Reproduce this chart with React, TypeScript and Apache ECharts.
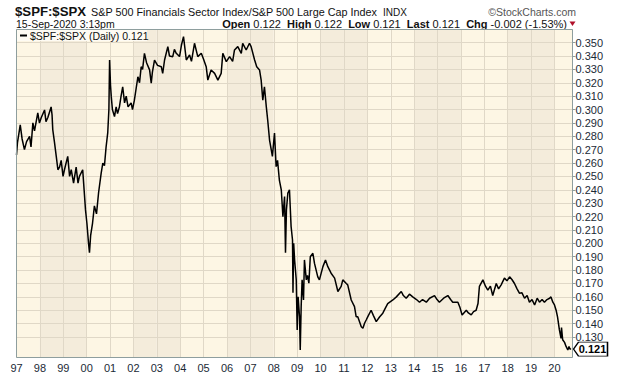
import React, { useEffect, useRef } from "react";
import * as echarts from "echarts";

// decimal years (time) and $SPF:$SPX ratio values
const years = [
  1997.00, 1997.04, 1997.16, 1997.24, 1997.34, 1997.43, 1997.56, 1997.62, 1997.70, 1997.77,
  1997.91, 1997.98, 1998.06, 1998.20, 1998.26, 1998.34, 1998.41, 1998.48, 1998.52, 1998.55,
  1998.62, 1998.70, 1998.77, 1998.84, 1998.91, 1998.99, 1999.05, 1999.19, 1999.27, 1999.34,
  1999.44, 1999.55, 1999.63, 1999.69, 1999.83, 1999.89, 1999.95, 2000.01, 2000.08, 2000.12,
  2000.17, 2000.25, 2000.33, 2000.42, 2000.51, 2000.62, 2000.69, 2000.76, 2000.83, 2000.90,
  2000.95, 2000.98, 2001.02, 2001.05, 2001.10, 2001.19, 2001.26, 2001.32, 2001.40, 2001.47,
  2001.54, 2001.62, 2001.69, 2001.77, 2001.90, 2001.96, 2002.04, 2002.19, 2002.26, 2002.33,
  2002.39, 2002.47, 2002.56, 2002.69, 2002.76, 2002.81, 2002.90, 2003.03, 2003.19, 2003.25,
  2003.33, 2003.47, 2003.54, 2003.68, 2003.75, 2003.83, 2003.97, 2004.05, 2004.14, 2004.26,
  2004.40, 2004.48, 2004.61, 2004.75, 2004.90, 2004.99, 2005.11, 2005.18, 2005.32, 2005.47,
  2005.61, 2005.75, 2005.82, 2005.97, 2006.11, 2006.24, 2006.32, 2006.46, 2006.61, 2006.67,
  2006.82, 2006.96, 2007.03, 2007.18, 2007.27, 2007.39, 2007.46, 2007.53, 2007.60, 2007.68,
  2007.74, 2007.82, 2007.89, 2007.94, 2008.03, 2008.10, 2008.16, 2008.24, 2008.32, 2008.39,
  2008.46, 2008.50, 2008.54, 2008.60, 2008.67, 2008.74, 2008.80, 2008.82, 2008.85, 2008.89,
  2008.96, 2009.00, 2009.04, 2009.10, 2009.13, 2009.17, 2009.21, 2009.27, 2009.31, 2009.39,
  2009.44, 2009.50, 2009.56, 2009.67, 2009.74, 2009.88, 2009.95, 2010.10, 2010.21, 2010.31,
  2010.45, 2010.60, 2010.74, 2010.88, 2010.95, 2011.10, 2011.16, 2011.31, 2011.45, 2011.52,
  2011.59, 2011.74, 2011.81, 2011.88, 2011.95, 2012.02, 2012.16, 2012.26, 2012.38, 2012.52,
  2012.66, 2012.78, 2012.87, 2013.09, 2013.24, 2013.45, 2013.54, 2013.66, 2013.80, 2013.94,
  2014.10, 2014.23, 2014.36, 2014.52, 2014.66, 2014.87, 2014.98, 2015.08, 2015.26, 2015.44,
  2015.56, 2015.65, 2015.87, 2015.96, 2016.05, 2016.23, 2016.32, 2016.44, 2016.54, 2016.65,
  2016.73, 2016.79, 2016.94, 2017.05, 2017.15, 2017.26, 2017.36, 2017.51, 2017.61, 2017.72,
  2017.86, 2017.97, 2018.08, 2018.18, 2018.29, 2018.40, 2018.50, 2018.61, 2018.72, 2018.83,
  2018.93, 2019.04, 2019.15, 2019.26, 2019.36, 2019.47, 2019.57, 2019.68, 2019.79, 2019.85,
  2019.93, 2020.00, 2020.07, 2020.13, 2020.21, 2020.28, 2020.30, 2020.35, 2020.43, 2020.50,
  2020.57, 2020.62, 2020.66, 2020.71,
];

const ratio = [
  0.266, 0.275, 0.2885, 0.278, 0.270, 0.276, 0.280, 0.272, 0.290, 0.284,
  0.2975, 0.290, 0.294, 0.2997, 0.291, 0.294, 0.298, 0.302, 0.296, 0.285,
  0.276, 0.265, 0.255, 0.257, 0.262, 0.250, 0.255, 0.265, 0.250, 0.255,
  0.245, 0.257, 0.245, 0.250, 0.255, 0.240, 0.225, 0.215, 0.200, 0.193,
  0.206, 0.215, 0.228, 0.222, 0.238, 0.2525, 0.260, 0.258, 0.272, 0.2825,
  0.300, 0.337, 0.318, 0.310, 0.300, 0.2947, 0.302, 0.297, 0.302, 0.310,
  0.317, 0.305, 0.310, 0.302, 0.305, 0.300, 0.307, 0.3245, 0.320, 0.332,
  0.330, 0.342, 0.335, 0.3296, 0.3197, 0.328, 0.337, 0.333, 0.332, 0.327,
  0.337, 0.347, 0.340, 0.3395, 0.345, 0.342, 0.3396, 0.348, 0.3545, 0.337,
  0.3408, 0.336, 0.3495, 0.3395, 0.342, 0.338, 0.332, 0.322, 0.3296, 0.327,
  0.322, 0.327, 0.342, 0.3358, 0.3395, 0.336, 0.3445, 0.347, 0.342, 0.3495,
  0.3445, 0.3495, 0.347, 0.337, 0.332, 0.3296, 0.322, 0.307, 0.317, 0.302,
  0.292, 0.277, 0.270, 0.265, 0.2825, 0.2573, 0.262, 0.247, 0.240, 0.220,
  0.235, 0.193, 0.225, 0.2375, 0.240, 0.2125, 0.2025, 0.163, 0.200, 0.1876,
  0.1727, 0.1353, 0.160, 0.1452, 0.1203, 0.1527, 0.1727, 0.1577, 0.1876, 0.1727,
  0.176, 0.1702, 0.190, 0.1926, 0.185, 0.175, 0.1727, 0.1826, 0.1876, 0.1826,
  0.1777, 0.174, 0.164, 0.1678, 0.1727, 0.170, 0.169, 0.1577, 0.1527, 0.1452,
  0.1452, 0.1377, 0.1365, 0.1403, 0.1427, 0.1452, 0.150, 0.146, 0.1415, 0.145,
  0.1478, 0.152, 0.155, 0.1577, 0.160, 0.164, 0.161, 0.159, 0.162, 0.160,
  0.158, 0.156, 0.158, 0.156, 0.159, 0.161, 0.158, 0.156, 0.159, 0.161,
  0.158, 0.156, 0.156, 0.152, 0.1465, 0.150, 0.148, 0.1465, 0.149, 0.150,
  0.155, 0.1678, 0.1727, 0.168, 0.165, 0.168, 0.161, 0.170, 0.166, 0.169,
  0.174, 0.172, 0.175, 0.173, 0.170, 0.166, 0.1628, 0.163, 0.159, 0.161,
  0.156, 0.158, 0.154, 0.159, 0.156, 0.158, 0.156, 0.158, 0.159, 0.160,
  0.156, 0.154, 0.150, 0.145, 0.1353, 0.129, 0.137, 0.128, 0.126, 0.1228,
  0.1203, 0.123, 0.121, 0.121,
];

const yTicks = [
  0.13, 0.14, 0.15, 0.16, 0.17, 0.18, 0.19, 0.2, 0.21, 0.22, 0.23, 0.24,
  0.25, 0.26, 0.27, 0.28, 0.29, 0.3, 0.31, 0.32, 0.33, 0.34, 0.35,
];

const quoteLabels = ["Open", "High", "Low", "Last", "Chg"];
const quoteValues = ["0.122", "0.122", "0.121", "0.121", "-0.002 (-1.53%)"];

const symbolName = "$SPF:$SPX";
const description = "S&P 500 Financials Sector Index/S&P 500 Large Cap Index";
const exchange = "INDX";
const dateText = "15-Sep-2020 3:13pm";
const brand = "\u00A9StockCharts.com";

const FONT = "'Liberation Sans', Arial, sans-serif";

export default function App() {
  const ref = useRef<HTMLDivElement>(null);

  useEffect(() => {
    if (!ref.current) return;
    const chart = echarts.init(ref.current, undefined, { renderer: "svg" });
    const data = years.map((y, i) => [y, ratio[i]]);
    const lastVal = ratio[ratio.length - 1];
    const xMin = 1997;
    const xMax = 2020.77;
    const yMin = 0.1147;
    const yMax = 0.3598;

    const gridLeft = 16.5;
    const gridTop = 29.5;
    const gridW = 556;
    const gridH = 328;

    const light = "#FDF6E4";
    const dark = "#F4ECDB";
    const gridLine = "#E0D8C7";
    const frame = "#8E9E9E";
    const textCol = "#1B2A36";

    const quoteRich = quoteLabels
      .map((l, i) => `{b|${l}} {v|${quoteValues[i]}}`)
      .join("  ");

    chart.setOption({
      animation: false,
      backgroundColor: "#ffffff",
      textStyle: { fontFamily: FONT },
      grid: {
        left: gridLeft,
        top: gridTop,
        width: gridW,
        height: gridH,
        show: false,
      },
      xAxis: {
        type: "value",
        min: xMin,
        max: xMax,
        interval: 1,
        z: 0,
        axisLine: { show: false },
        axisTick: { show: false },
        axisLabel: {
          show: true,
          margin: 5,
          fontSize: 11,
          color: textCol,
          fontFamily: FONT,
          showMaxLabel: false,
          formatter: (v: number) =>
            Number.isInteger(v) ? String(v).slice(2) : "",
        },
        splitLine: { show: true, lineStyle: { color: gridLine, width: 1 } },
        splitArea: {
          show: true,
          areaStyle: { color: [light, dark, dark, light] },
        },
      },
      yAxis: {
        type: "value",
        position: "right",
        min: yMin,
        max: yMax,
        z: 1,
        axisLine: { show: false },
        axisTick: {
          show: true,
          length: 3,
          customValues: yTicks,
          lineStyle: { color: frame },
        },
        axisLabel: {
          show: true,
          customValues: yTicks,
          margin: 3,
          fontSize: 11,
          color: textCol,
          fontFamily: FONT,
          formatter: (v: number) => v.toFixed(3),
        },
        splitLine: { show: true, lineStyle: { color: gridLine, width: 1 } },
      },
      series: [
        {
          type: "line",
          data,
          showSymbol: false,
          symbol: "none",
          lineStyle: { color: "#000000", width: 1.5 },
          z: 5,
          markPoint: {
            silent: true,
            symbol: "path://M0,7L5,0L34,0L34,14L5,14Z",
            symbolSize: [34, 14],
            symbolKeepAspect: false,
            symbolOffset: [18, 0],
            itemStyle: { color: "#ffffff", borderColor: "#000000", borderWidth: 1 },
            label: {
              show: true,
              position: "inside",
              offset: [2, 0],
              formatter: () => lastVal.toFixed(3),
              color: "#000000",
              fontWeight: "bold",
              fontSize: 11,
              fontFamily: FONT,
            },
            data: [{ coord: [xMax, lastVal], value: lastVal }],
          },
        },
      ],
      graphic: [
        {
          type: "rect",
          z: 100,
          silent: true,
          shape: { x: gridLeft, y: gridTop, width: gridW, height: gridH },
          style: { fill: "none", stroke: frame, lineWidth: 1 },
        },
        {
          type: "rect",
          z: 90,
          silent: true,
          shape: { x: gridLeft + 0.5, y: gridTop + 0.5, width: 130, height: 11 },
          style: { fill: "#FEFBF3" },
        },
        {
          type: "line",
          z: 95,
          silent: true,
          shape: { x1: 20, y1: 35.5, x2: 27, y2: 35.5 },
          style: { stroke: "#000", lineWidth: 2 },
        },
        {
          type: "text",
          z: 95,
          x: 30,
          y: 35.5,
          silent: true,
          style: {
            text: `${symbolName} (Daily) ${lastVal.toFixed(3)}`,
            font: `10.5px ${FONT}`,
            fill: "#111",
            verticalAlign: "middle",
            align: "left",
          },
        },
        {
          type: "text",
          x: 15,
          y: 11,
          style: {
            text: symbolName,
            font: `bold 13.2px ${FONT}`,
            fill: "#111",
            verticalAlign: "middle",
            align: "left",
          },
        },
        {
          type: "text",
          x: 91,
          y: 11.5,
          style: {
            text: description,
            font: `10.8px ${FONT}`,
            fill: "#111",
            verticalAlign: "middle",
            align: "left",
          },
        },
        {
          type: "text",
          x: 383,
          y: 12,
          style: {
            text: exchange,
            font: `10px ${FONT}`,
            fill: "#111",
            verticalAlign: "middle",
            align: "left",
          },
        },
        {
          type: "text",
          x: 576,
          y: 11.5,
          style: {
            text: brand,
            font: `10.5px ${FONT}`,
            fill: "#555",
            verticalAlign: "middle",
            align: "right",
          },
        },
        {
          type: "text",
          x: 16,
          y: 23.5,
          style: {
            text: dateText,
            font: `10.5px ${FONT}`,
            fill: "#111",
            verticalAlign: "middle",
            align: "left",
          },
        },
        {
          type: "text",
          x: 567,
          y: 23.5,
          style: {
            text: quoteRich,
            align: "right",
            verticalAlign: "middle",
            fill: "#111",
            font: `11px ${FONT}`,
            rich: {
              b: { fontWeight: "bold", fontSize: 11, fontFamily: FONT, fill: "#111" },
              v: { fontSize: 11, fontFamily: FONT, fill: "#111" },
            },
          },
        },
        {
          type: "polygon",
          shape: { points: [[569.5, 21.5], [575.5, 21.5], [572.5, 26]] },
          style: { fill: "#B0102A" },
        },
      ],
    });

    return () => chart.dispose();
  }, []);

  return (
    <div
      ref={ref}
      style={{ position: "fixed", left: 0, top: 0, width: 620, height: 376 }}
    />
  );
}
